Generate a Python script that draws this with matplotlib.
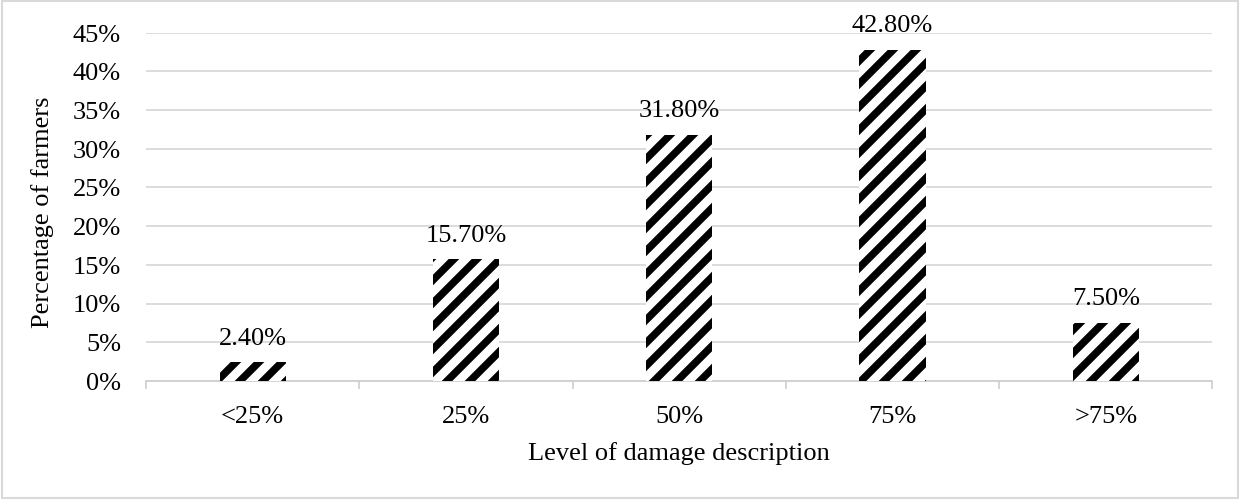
import matplotlib.pyplot as plt
from matplotlib.patches import Rectangle
from matplotlib.ticker import FixedLocator

# hatch tile size follows dpi, so dpi is picked to get ~23 px stripe spacing
DPI = 138


def pt(px):
    # pixel size -> points at this dpi
    return px * 72 / DPI


plt.rcParams['font.family'] = ['Liberation Serif', 'DejaVu Serif']
plt.rcParams['hatch.linewidth'] = pt(7.5)

categories = ["<25%", "25%", "50%", "75%", ">75%"]
values = [2.4, 15.7, 31.8, 42.8, 7.5]
labels = ["2.40%", "15.70%", "31.80%", "42.80%", "7.50%"]

fs = pt(26.4)

fig = plt.figure(figsize=(1240.4 / DPI, 500.4 / DPI), dpi=DPI)
# plot area: x 146..1212 px, y 33..381 px
ax = fig.add_axes([146 / 1240, 1 - 381 / 500, 1066 / 1240, 348 / 500])

x = list(range(len(categories)))
ax.bar(x, values, width=0.31, color="white", edgecolor="black",
       hatch="//", linewidth=0, zorder=3)

for xi, v, lab in zip(x, values, labels):
    ax.text(xi, v + 3.1, lab, ha="center", va="center", fontsize=fs)

ax.set_xlim(-0.5, len(categories) - 0.5)
ax.set_ylim(0, 45)
ax.set_yticks(range(0, 46, 5))
ax.set_yticklabels([f"{t}%" for t in range(0, 46, 5)], fontsize=fs)
ax.set_xticks(x)
ax.set_xticklabels(categories, fontsize=fs)
ax.tick_params(axis="x", length=0, pad=pt(25))
ax.tick_params(axis="y", length=0, pad=pt(25))
ax.xaxis.set_minor_locator(FixedLocator([i - 0.5 for i in range(len(categories) + 1)]))
ax.tick_params(axis="x", which="minor", length=pt(8), width=pt(1.7), color="#d0d0d0")

ax.grid(axis="y", color="#d9d9d9", linewidth=pt(1.8), zorder=0)
for s in ["left", "right", "top"]:
    ax.spines[s].set_visible(False)
ax.spines["bottom"].set_color("#d0d0d0")
ax.spines["bottom"].set_linewidth(pt(1.8))

fig.text(679 / 1240, 1 - 453 / 500, "Level of damage description",
         ha="center", va="center", fontsize=fs)
fig.text(42 / 1240, 1 - 212 / 500, "Percentage of farmers",
         ha="center", va="center", rotation=90, fontsize=fs)

fig.patches.append(Rectangle((0.002, 0.003), 0.996, 0.994, transform=fig.transFigure,
                             fill=False, edgecolor="#d9d9d9", linewidth=pt(2.1)))

fig.savefig("out.png", dpi=DPI)
